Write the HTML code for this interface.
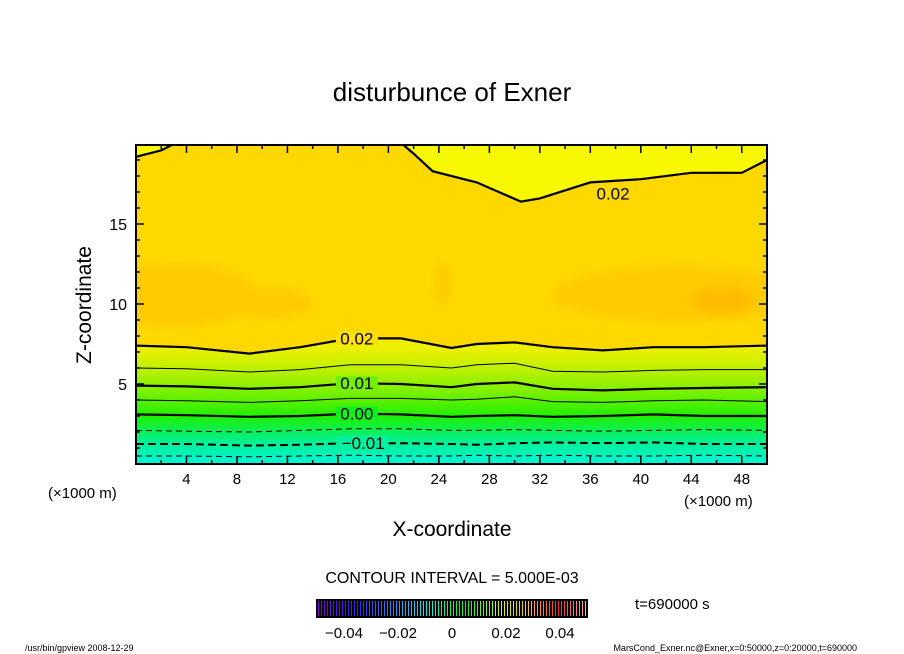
<!DOCTYPE html>
<html><head><meta charset="utf-8"><style>
body{margin:0;background:#fff;}
svg{display:block;font-family:"Liberation Sans",sans-serif;}
</style></head><body>
<svg id="chart" width="904" height="654" viewBox="0 0 904 654">
<defs>
<linearGradient id="lowgrad" gradientUnits="userSpaceOnUse" x1="0" y1="464" x2="0" y2="330">
<stop offset="0" stop-color="#00f4d8"/>
<stop offset="0.17" stop-color="#00f090"/>
<stop offset="0.36" stop-color="#20f000"/>
<stop offset="0.55" stop-color="#80f000"/>
<stop offset="0.74" stop-color="#c8f000"/>
<stop offset="0.88" stop-color="#f0f000"/>
<stop offset="1" stop-color="#ffe400"/>
</linearGradient>
<filter id="blur" x="-20%" y="-50%" width="140%" height="200%"><feGaussianBlur stdDeviation="4"/></filter>
<clipPath id="plotclip"><rect x="136" y="145" width="631" height="319"/></clipPath>
</defs>
<text x="452" y="101" font-size="26" text-anchor="middle">disturbunce of Exner</text>
<g id="plot" clip-path="url(#plotclip)"></g>
<rect x="136" y="145" width="631" height="319" fill="none" stroke="#000" stroke-width="2"/>
<g id="axes"></g>
<text x="91" y="305" font-size="21" text-anchor="middle" transform="rotate(-90 91 305)">Z-coordinate</text>
<text x="452" y="536" font-size="21" text-anchor="middle">X-coordinate</text>
<text x="48" y="498" font-size="15">(×1000 m)</text>
<text x="684" y="506" font-size="15">(×1000 m)</text>
<text x="452" y="583" font-size="16" text-anchor="middle">CONTOUR INTERVAL = 5.000E-03</text>
<text x="635" y="609" font-size="15">t=690000 s</text>
<rect x="316" y="599" width="272" height="19" fill="#000"/>
<g id="cbar"></g>
<text x="25" y="651" font-size="9">/usr/bin/gpview   2008-12-29</text>
<text x="857" y="651" font-size="9" text-anchor="end">MarsCond_Exner.nc@Exner,x=0:50000,z=0:20000,t=690000</text>
</svg>
<script>
const xs=[0,4,9,13,17,21,25,27,30,33,37,41,45,50];
const lvM015=[0.5,0.5,0.45,0.5,0.55,0.5,0.5,0.55,0.5,0.55,0.5,0.5,0.55,0.5];
const lvM010=[1.25,1.25,1.15,1.2,1.3,1.3,1.25,1.2,1.3,1.35,1.3,1.35,1.25,1.25];
const lvM005=[2.1,2.05,2.0,2.1,2.2,2.2,2.1,2.1,2.15,2.1,2.05,2.1,2.15,2.1];
const lv000=[3.1,3.05,2.95,3.0,3.15,3.1,2.95,3.0,3.05,2.95,3.0,3.1,3.0,3.0];
const lv005=[4.0,3.95,3.85,3.95,4.1,4.1,4.0,4.05,4.2,3.9,3.85,3.95,4.0,3.9];
const lv010=[4.9,4.85,4.7,4.8,5.05,5.0,4.8,5.0,5.1,4.7,4.6,4.7,4.75,4.8];
const lv015=[6.0,5.95,5.75,5.9,6.2,6.2,6.0,6.2,6.3,5.8,5.75,5.85,5.9,5.9];
const lv020=[7.4,7.3,6.9,7.3,7.85,7.85,7.25,7.5,7.6,7.3,7.1,7.3,7.3,7.4];
const topXs=[20.8,22,23.5,27,30.5,32,36,40,44,48,50];
const topZ=[20.2,19.4,18.3,17.6,16.4,16.6,17.6,17.8,18.2,18.2,19];
const topLeftXs=[0,2,3.5];
const topLeftZ=[19.2,19.6,20.2];
const xTicks=[4,8,12,16,20,24,28,32,36,40,44,48];
const yTicks=[5,10,15];
const cbarTicks=[-0.04,-0.02,0,0.02,0.04];
const cbarLabels=["−0.04","−0.02","0","0.02","0.04"];

const X=v=>136+v*631/50, Z=v=>464-v*16;
const NS='http://www.w3.org/2000/svg';
function mk(tag,attrs,parent){const e=document.createElementNS(NS,tag);for(const k in attrs)e.setAttribute(k,attrs[k]);parent.appendChild(e);return e;}
const plot=document.getElementById('plot');
const pts=(xa,za)=>xa.map((x,i)=>X(x).toFixed(1)+','+Z(za[i]).toFixed(1)).join(' ');

let bg=mk('rect',{x:136,y:145,width:631,height:319,fill:'#ffd800'},plot);


// orange patches (cx km, cz, rx px, ry px)
[[3,10.6,150,32],[43,10.6,230,28],[24.3,11.3,16,20],[10.5,10.1,80,16]].forEach(p=>{
 const e=mk('ellipse',{cx:X(p[0]),cy:Z(p[1]),rx:p[2]/2*1.1,ry:p[3],fill:'#ffcc00',filter:'url(#blur)'},plot);
 
 
});
const dp=mk('ellipse',{cx:X(46.5),cy:Z(10.2),rx:32,ry:13,fill:'#ffbc00',filter:'url(#blur)'},plot);


// top yellow region
const ty=mk('polygon',{points:pts(topXs,topZ)+' '+X(50)+',140 '+X(20.8)+',140',fill:'#f8f800'},plot);


const tl=mk('polygon',{points:pts(topLeftXs,topLeftZ)+' '+X(0)+',140',fill:'#f8f800'},plot);


// low gradient region
const low=mk('polygon',{points:pts(xs,lv020)+' '+X(50)+',470 '+X(0)+',470',fill:'url(#lowgrad)'},plot);



function line(xa,za,w,dash,name){
 const l=mk('polyline',{points:pts(xa,za),fill:'none',stroke:'#000','stroke-width':w},plot);
 if(dash)l.setAttribute('stroke-dasharray',dash);
 
 
}
line(xs,lvM015,1,'6,4','contour-m015');
line(xs,lvM010,2,'8,4','contour-m010');
line(xs,lvM005,1,'6,4','contour-m005');
line(xs,lv000,2.2,null,'contour-000');
line(xs,lv005,1,null,'contour-005');
line(xs,lv010,2.2,null,'contour-010');
line(xs,lv015,1,null,'contour-015');
line(xs,lv020,2.2,null,'contour-020');
line(topXs,topZ,2.2,null,'contour-020-top');
line(topLeftXs,topLeftZ,2.2,null,'contour-020-topleft');

const axes=document.getElementById('axes');
const cl=[[17.5,lv020[4],'0.02'],[17.5,lv010[4],'0.01'],[17.5,lv000[4],'0.00'],[18,lvM010[4],'−0.01'],[37.8,16.9,'0.02']];
cl.forEach(c=>{
 const w=c[2].length*9+6;
 const r=mk('rect',{x:X(c[0])-w/2,y:Z(c[1])-7,width:w,height:14,fill:c[1]>15?'#ffd800':(c[1]>7?'#ffe000':(c[1]>4?'#70f000':(c[1]>2?'#10f020':'#00f0a0')))},axes);
 
 
 const t=mk('text',{x:X(c[0]),y:Z(c[1])+6,'font-size':17,'text-anchor':'middle'},axes);
 t.textContent=c[2];
 
 
});
for(let v=2;v<50;v+=2){
 const L=v%4===0?8:4;
 const a=mk('line',{x1:X(v),x2:X(v),y1:464,y2:464-L,stroke:'#000','stroke-width':1.5},axes);
 
 
 const b=mk('line',{x1:X(v),x2:X(v),y1:145,y2:145+L,stroke:'#000','stroke-width':1.5},axes);
 
 
}
for(let v=1;v<20;v++){
 const L=v%5===0?8:4;
 const a=mk('line',{x1:136,x2:136+L,y1:Z(v),y2:Z(v),stroke:'#000','stroke-width':1.5},axes);
 
 
 const b=mk('line',{x1:767,x2:767-L,y1:Z(v),y2:Z(v),stroke:'#000','stroke-width':1.5},axes);
 
 
}
xTicks.forEach(v=>{
 const t=mk('text',{x:X(v),y:484,'font-size':15,'text-anchor':'middle'},axes);
 t.textContent=v;
 
 
});
yTicks.forEach(v=>{
 const t=mk('text',{x:127,y:Z(v)+6,'font-size':16,'text-anchor':'end'},axes);
 t.textContent=v;
 
 
});
// colorbar
const cbar=document.getElementById('cbar');
const cstops=[[0,[130,0,220]],[0.15,[40,40,255]],[0.3,[40,150,255]],[0.4,[0,240,240]],[0.55,[0,250,60]],[0.68,[210,250,0]],[0.8,[255,190,0]],[0.9,[255,40,40]],[1,[255,170,170]]];
function col(t){for(let i=1;i<cstops.length;i++){if(t<=cstops[i][0]){const a=cstops[i-1],b=cstops[i],f=(t-a[0])/(b[0]-a[0]);return 'rgb('+a[1].map((c,k)=>Math.round(c+(b[1][k]-c)*f)).join(',')+')';}}return 'rgb(255,170,170)';}
for(let i=0;i<90;i++){
 const x=318.5+i*3;
 const l=mk('line',{x1:x,x2:x,y1:601,y2:616,stroke:col(i/89),'stroke-width':1},cbar);
 
 
}
cbarTicks.forEach((v,i)=>{
 const t=mk('text',{x:452+v*2700,y:638,'font-size':15,'text-anchor':'middle'},cbar);
 t.textContent=cbarLabels[i];
 
 
});
</script>
</body></html>
